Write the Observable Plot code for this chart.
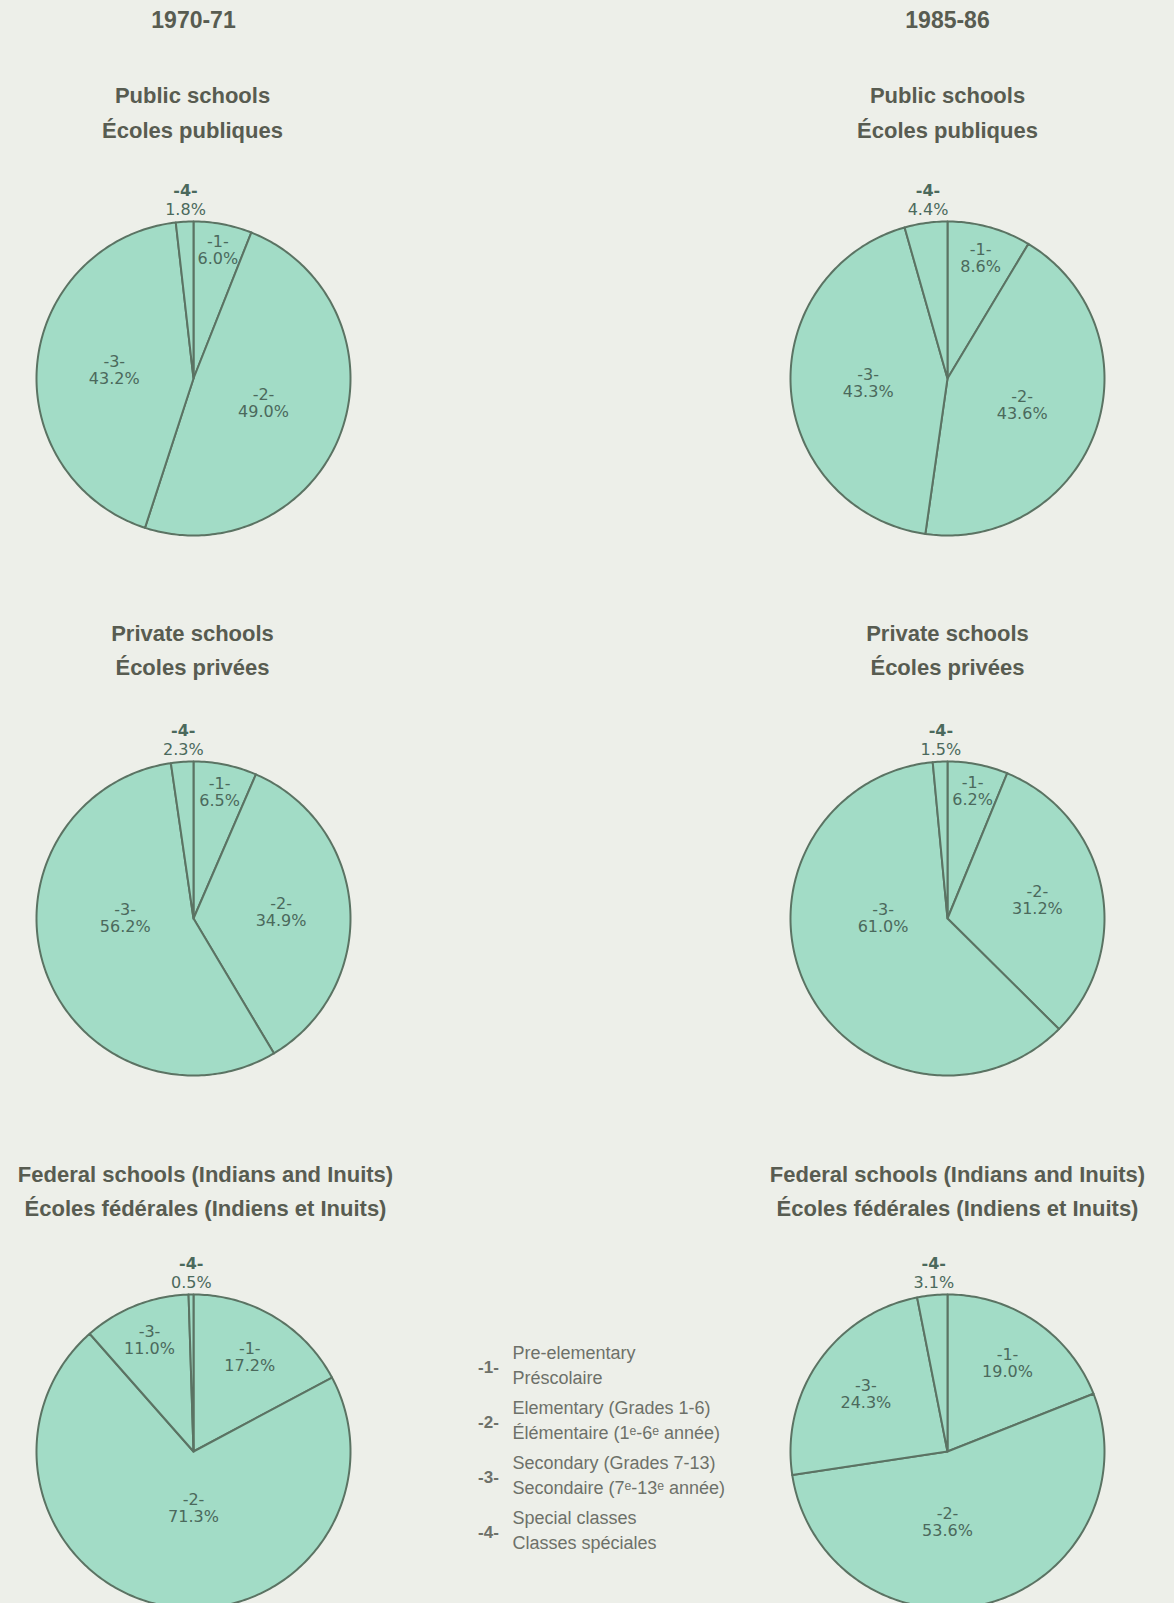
<!DOCTYPE html>
<html>
<head>
<meta charset="utf-8">
<script src="https://cdn.jsdelivr.net/npm/d3@7"></script>
<script src="https://cdn.jsdelivr.net/npm/@observablehq/plot@0.6"></script>
<style>
html, body { margin: 0; padding: 0; background: #edefe9; }
#chart svg { display: block; }
</style>
</head>
<body>
<div id="chart"></div>
<script>
// ---- Data ----
const categories = ["-1-", "-2-", "-3-", "-4-"];
const legendEn = ["Pre-elementary", "Elementary (Grades 1-6)", "Secondary (Grades 7-13)", "Special classes"];
const legendFr = ["Préscolaire", "Élémentaire (1ᵉ-6ᵉ année)", "Secondaire (7ᵉ-13ᵉ année)", "Classes spéciales"];
const years = ["1970-71", "1985-86"];
const schoolEn = ["Public schools", "Private schools", "Federal schools (Indians and Inuits)"];
const schoolFr = ["Écoles publiques", "Écoles privées", "Écoles fédérales (Indiens et Inuits)"];

const public7071 = [6.0, 49.0, 43.2, 1.8];
const public8586 = [8.6, 43.6, 43.3, 4.4];
const private7071 = [6.5, 34.9, 56.2, 2.3];
const private8586 = [6.2, 31.2, 61.0, 1.5];
const federal7071 = [17.2, 71.3, 11.0, 0.5];
const federal8586 = [19.0, 53.6, 24.3, 3.1];

// ---- Layout ----
const W = 1174, H = 1603;
const colX = [193, 947];
const rowY = [378, 918, 1451];
const R = 157;
const titleX = [[192, 192, 205], [947, 947, 957]];
const title1Y = [95, 633, 1174];
const title2Y = [130, 667, 1208];
const yearY = 20;
const legendNumX = 488, legendTextX = 512;
const legendY = [1365, 1420, 1475, 1530];

const pies = [
  {values: public7071, col: 0, row: 0},
  {values: public8586, col: 1, row: 0},
  {values: private7071, col: 0, row: 1},
  {values: private8586, col: 1, row: 1},
  {values: federal7071, col: 0, row: 2},
  {values: federal8586, col: 1, row: 2}
];

const slicePts = [];
const numLabels = [];
const pctLabels = [];
const fmt = d3.format(".1f");

pies.forEach((p, pi) => {
  const total = d3.sum(p.values);
  const cx = colX[p.col], cy = rowY[p.row];
  let acc = 0;
  p.values.forEach((v, si) => {
    const a0 = acc / total * 2 * Math.PI;
    acc += v;
    const a1 = acc / total * 2 * Math.PI;
    const key = pi + "-" + si;
    slicePts.push({key, x: cx, y: cy});
    const n = Math.max(2, Math.ceil((a1 - a0) / (Math.PI / 180)));
    for (let k = 0; k <= n; k++) {
      const a = a0 + (a1 - a0) * k / n;
      slicePts.push({key, x: cx + R * Math.sin(a), y: cy - R * Math.cos(a)});
    }
    slicePts.push({key, x: cx, y: cy});

    const f = v / total;
    let mid = (a0 + a1) / 2;
    if (f < 0.05) {
      const lx = cx + 0.9 * R * Math.sin(mid);
      numLabels.push({x: lx, y: cy - R - 31, text: categories[si], outside: true});
      pctLabels.push({x: lx, y: cy - R - 12, text: fmt(v) + "%"});
    } else {
      // large slices: label sits on the nearest horizontal / vertical axis
      if (f > 0.5) mid = Math.round(mid / (Math.PI / 2)) * (Math.PI / 2);
      const d = R * (1.02 - 0.78 * Math.sqrt(f));
      const lx = cx + d * Math.sin(mid), ly = cy - d * Math.cos(mid);
      numLabels.push({x: lx, y: ly - 8.5, text: categories[si], outside: false});
      pctLabels.push({x: lx, y: ly + 8.5, text: fmt(v) + "%"});
    }
  });
});

const yearData = years.map((t, i) => ({t, x: colX[i], y: yearY}));
const titleData = [];
[0, 1].forEach(c => schoolEn.forEach((t, r) => {
  titleData.push({t, x: titleX[c][r], y: title1Y[r]});
  titleData.push({t: schoolFr[r], x: titleX[c][r], y: title2Y[r]});
}));
const legendData = categories.map((c, i) => ({c, en: legendEn[i], fr: legendFr[i], y: legendY[i]}));

const labelFont = "DejaVu Sans, Verdana, sans-serif";
const titleFont = "Liberation Sans, Arial, Helvetica, sans-serif";
const labelColor = "#4b695c";
const titleColor = "#585c51";
const legendColor = "#6d7169";

const chart = Plot.plot({
  width: W,
  height: H,
  margin: 0,
  x: {domain: [0, W], range: [0, W], axis: null},
  y: {domain: [0, H], range: [0, H], axis: null},
  style: {background: "#edefe9", overflow: "visible"},
  marks: [
    Plot.line(slicePts, {x: "x", y: "y", z: "key", fill: "#a2dcc6", stroke: "#5b7363", strokeWidth: 2, strokeLinejoin: "round", curve: "linear"}),
    Plot.text(numLabels.filter(d => !d.outside), {x: "x", y: "y", text: "text", fontFamily: labelFont, fontSize: 16, fill: labelColor}),
    Plot.text(numLabels.filter(d => d.outside), {x: "x", y: "y", text: "text", fontFamily: labelFont, fontSize: 16, fontWeight: "bold", fill: labelColor}),
    Plot.text(pctLabels, {x: "x", y: "y", text: "text", fontFamily: labelFont, fontSize: 16, fill: labelColor}),
    Plot.text(yearData, {x: "x", y: "y", text: "t", fontFamily: titleFont, fontSize: 23, fontWeight: "bold", fill: titleColor}),
    Plot.text(titleData, {x: "x", y: "y", text: "t", fontFamily: titleFont, fontSize: 22, fontWeight: "bold", fill: titleColor}),
    Plot.text(legendData, {x: legendNumX, y: d => d.y + 2, text: "c", fontFamily: titleFont, fontSize: 17, fontWeight: "bold", fill: legendColor}),
    Plot.text(legendData, {x: legendTextX, y: d => d.y - 12.5, text: "en", textAnchor: "start", fontFamily: titleFont, fontSize: 18, fill: legendColor}),
    Plot.text(legendData, {x: legendTextX, y: d => d.y + 12.5, text: "fr", textAnchor: "start", fontFamily: titleFont, fontSize: 18, fill: legendColor})
  ]
});
document.getElementById("chart").appendChild(chart);
</script>
</body>
</html>
